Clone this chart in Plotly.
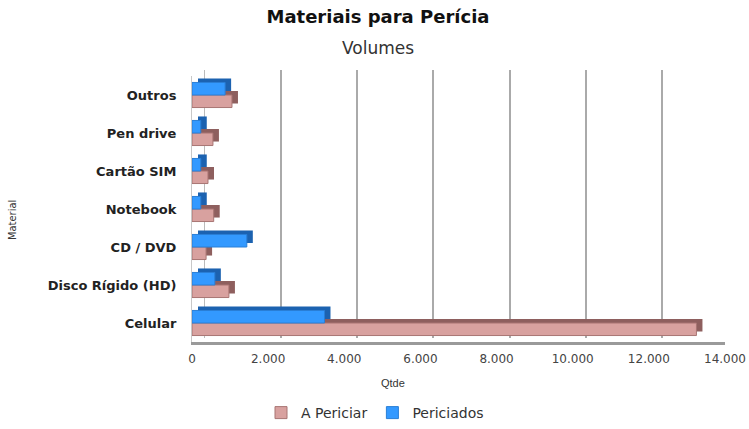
import plotly.graph_objects as go

categories = ["Celular", "Disco Rígido (HD)", "CD / DVD", "Notebook", "Cartão SIM", "Pen drive", "Outros"]
a_periciar = [13250, 970, 370, 570, 420, 550, 1050]
periciados = [3480, 600, 1440, 230, 230, 230, 870]
tick_vals = [0, 2000, 4000, 6000, 8000, 10000, 12000, 14000]

W, H = 749, 429
ML, MR, MT, MB = 192, 11, 70, 87
PW = W - ML - MR
PH = H - MT - MB

PINK = "#D8A19F"
PINK_DARK = "#8E5F5E"
BLUE = "#3399FF"
BLUE_DARK = "#1C62B0"
BOLD_FONT = "DejaVu Sans, Verdana, sans-serif"

fig = go.Figure()

# back wall subplot (only carries the grid)
fig.add_trace(go.Scatter(x=[], y=[], mode="markers", showlegend=False, hoverinfo="skip", xaxis="x", yaxis="y"))
# depth (side) faces, on a slightly shifted axis pair
fig.add_trace(go.Bar(y=categories, x=a_periciar, orientation="h", marker=dict(color=PINK_DARK, line=dict(width=0)),
                     showlegend=False, hoverinfo="skip", xaxis="x2", yaxis="y2"))
fig.add_trace(go.Bar(y=categories, x=periciados, orientation="h", marker=dict(color=BLUE_DARK, line=dict(width=0)),
                     showlegend=False, hoverinfo="skip", xaxis="x2", yaxis="y2"))
# front faces
fig.add_trace(go.Bar(y=categories, x=a_periciar, orientation="h", name="A Periciar",
                     marker=dict(color=PINK, line=dict(color="#A87573", width=1)), xaxis="x3", yaxis="y3"))
fig.add_trace(go.Bar(y=categories, x=periciados, orientation="h", name="Periciados",
                     marker=dict(color=BLUE, line=dict(color="#2A7FD6", width=1)), xaxis="x3", yaxis="y3"))


def px_dom(a, b, total):
    return [a / total, b / total]


fig.update_layout(
    width=W, height=H,
    margin=dict(l=ML, r=MR, t=MT, b=MB, autoexpand=False),
    paper_bgcolor="white", plot_bgcolor="rgba(0,0,0,0)",
    separators=",.",
    barmode="group", bargap=0.34, bargroupgap=0,
    font=dict(family="Liberation Sans, Arial, sans-serif", color="#333333"),
    title=dict(text="<b>Materiais para Perícia</b>", x=378 / W, xanchor="center", y=1 - 17 / H, yanchor="middle",
               font=dict(size=18, color="#111111", family=BOLD_FONT)),
    # back wall (grid only)
    xaxis=dict(domain=px_dom(13, PW, PW), range=[0, 14000], tickvals=tick_vals, showticklabels=False,
               showgrid=True, gridcolor="#AAAAAA", gridwidth=2, zeroline=False, showline=False, anchor="y"),
    yaxis=dict(domain=px_dom(4, PH, PH), range=[0, 1], showticklabels=False, showgrid=False,
               zeroline=False, showline=True, linecolor="#BBBBBB", linewidth=1, anchor="x"),
    # depth faces
    xaxis2=dict(domain=px_dom(6, PW - 7, PW), range=[0, 14000], showticklabels=False, showgrid=False,
                zeroline=False, showline=False, anchor="y2"),
    yaxis2=dict(domain=px_dom(4, PH - 2, PH), range=[-0.5, 6.5], showticklabels=False, showgrid=False,
                showline=False, anchor="x2", categoryorder="array", categoryarray=categories),
    # front faces
    xaxis3=dict(domain=px_dom(0, PW - 13, PW), range=[0, 14000], tickvals=tick_vals, tickformat=",",
                showgrid=False, zeroline=False, showline=True, linecolor="#9A9A9A", linewidth=3,
                ticks="", ticklabelstandoff=4, ticklabeloverflow="allow",
                tickfont=dict(size=12, color="#444444", family=BOLD_FONT), anchor="y3"),
    yaxis3=dict(domain=px_dom(0, PH - 6, PH), range=[-0.5, 6.5], showgrid=False, showline=True,
                linecolor="#C8C8C8", linewidth=1, anchor="x3", ticks="", ticklabelstandoff=12,
                tickfont=dict(size=13, color="#222222", family=BOLD_FONT),
                categoryorder="array", categoryarray=categories, tickprefix="<b>", ticksuffix="</b>"),
    legend=dict(orientation="h", xref="container", yref="container", x=375 / W, xanchor="center",
                y=0, yanchor="bottom", font=dict(size=14, color="#333333", family=BOLD_FONT),
                traceorder="normal"),
    annotations=[
        dict(text="Volumes", xref="paper", yref="paper", x=(378 - ML) / PW, y=(H - MB - 48) / PH,
             xanchor="center", yanchor="middle", showarrow=False,
             font=dict(size=17, color="#333333", family=BOLD_FONT)),
        dict(text="Qtde", xref="paper", yref="paper", x=(393 - ML) / PW, y=(H - MB - 383) / PH,
             xanchor="center", yanchor="middle", showarrow=False, font=dict(size=11, color="#333333")),
        dict(text="Material", xref="paper", yref="paper", x=(12 - ML) / PW, y=(H - MB - 220) / PH,
             xanchor="center", yanchor="middle", textangle=-90, showarrow=False,
             font=dict(size=11, color="#333333", family="Liberation Sans Narrow, DejaVu Sans Condensed, Arial")),
    ],
)

fig.write_html("out.html")
